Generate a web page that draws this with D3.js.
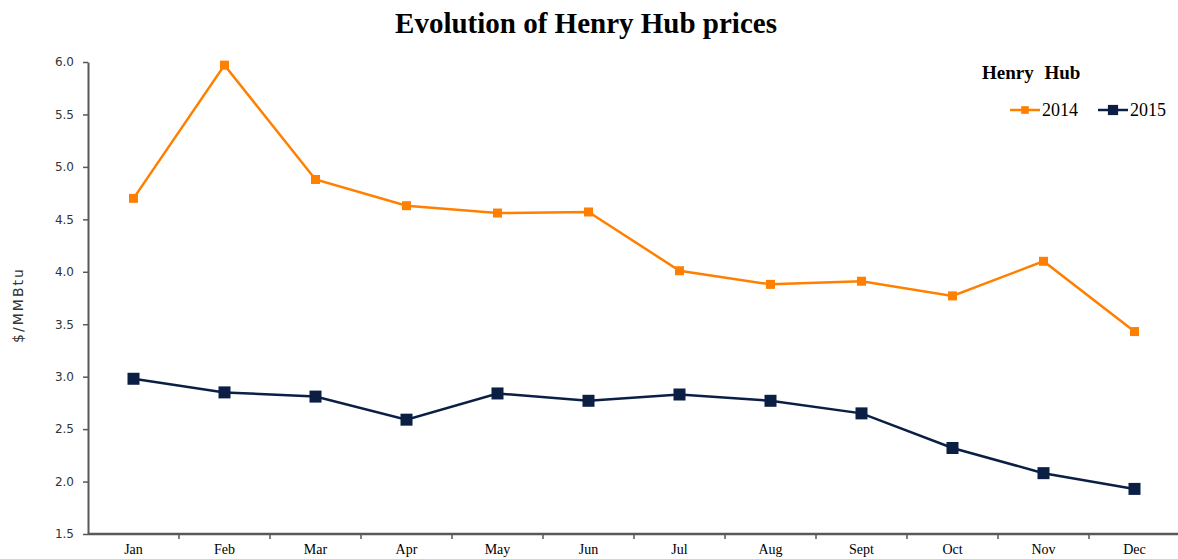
<!DOCTYPE html>
<html>
<head>
  <meta charset="utf-8">
  <script src="https://cdn.jsdelivr.net/npm/d3@7"></script>
  <style>
    body { margin: 0; background: #fff; }
    svg { display: block; }
  </style>
</head>
<body>
  <svg id="chart" width="1178" height="559"></svg>
  <script>
    // data
    var months = ['Jan', 'Feb', 'Mar', 'Apr', 'May', 'Jun', 'Jul', 'Aug', 'Sept', 'Oct', 'Nov', 'Dec']
    var hh2014 = [4.70, 5.97, 4.88, 4.63, 4.56, 4.57, 4.01, 3.88, 3.91, 3.77, 4.10, 3.43]
    var hh2015 = [2.98, 2.85, 2.81, 2.59, 2.84, 2.77, 2.83, 2.77, 2.65, 2.32, 2.08, 1.93]
    var yTicks = [1.5, 2.0, 2.5, 3.0, 3.5, 4.0, 4.5, 5.0, 5.5, 6.0]
    var seriesNames = ['2014', '2015']

    var svg = d3.select('#chart')
    // plot edges (not "top": that name is taken by window.top)
    var plotLeft = 88, plotRight = 1180, plotTop = 62, plotBottom = 534

    var x = d3.scaleBand().domain(months).range([plotLeft, plotRight])
    var y = d3.scaleLinear().domain([1.5, 6.0]).range([plotBottom, plotTop])

    // title
    svg.append('text')
      .attr('x', 586).attr('y', 33)
      .attr('text-anchor', 'middle')
      .style('font-family', '"Liberation Serif", "Times New Roman", serif')
      .style('font-weight', 'bold')
      .style('font-size', '29px')
      .text('Evolution of Henry Hub prices')

    // y axis
    var yAxis = svg.append('g')
      .attr('transform', 'translate(' + plotLeft + ',0)')
      .call(d3.axisLeft(y).tickValues(yTicks).tickFormat(d3.format('.1f')).tickSize(5).tickSizeOuter(0))
    yAxis.select('.domain').attr('stroke', '#595959').attr('stroke-width', 2)
    yAxis.selectAll('.tick line').attr('stroke', '#595959').attr('stroke-width', 1.5)
    yAxis.selectAll('.tick text')
      .attr('x', -14)
      .style('font-family', '"DejaVu Sans", Verdana, sans-serif')
      .style('font-size', '12px')
      .attr('fill', '#333')

    // x axis, ticks between categories
    var xAxis = svg.append('g')
      .attr('transform', 'translate(0,' + plotBottom + ')')
    xAxis.append('line')
      .attr('x1', plotLeft).attr('x2', plotRight)
      .attr('stroke', '#595959').attr('stroke-width', 2.5)
    xAxis.selectAll('.sep')
      .data(months.slice(1))
      .join('line')
      .attr('class', 'sep')
      .attr('x1', d => x(d)).attr('x2', d => x(d))
      .attr('y1', 0).attr('y2', 5)
      .attr('stroke', '#595959').attr('stroke-width', 1.5)
    xAxis.selectAll('.lbl')
      .data(months)
      .join('text')
      .attr('class', 'lbl')
      .attr('x', d => x(d) + x.bandwidth() / 2)
      .attr('y', 20)
      .attr('text-anchor', 'middle')
      .style('font-family', '"Liberation Serif", "Times New Roman", serif')
      .style('font-size', '14px')
      .text(d => d)

    // y label
    svg.append('text')
      .attr('transform', 'translate(23,305) rotate(-90)')
      .attr('text-anchor', 'middle')
      .style('font-family', '"DejaVu Sans", Verdana, sans-serif')
      .style('font-size', '14px')
      .style('letter-spacing', '2px')
      .attr('fill', '#333')
      .text('$/MMBtu')

    var colors = ['#FF8000', '#0B1F45']
    var markerSize = [9, 12]
    var line = d3.line()
      .x((d, i) => x(months[i]) + x.bandwidth() / 2)
      .y(d => y(d))

    ;[hh2014, hh2015].forEach(function (vals, s) {
      svg.append('path')
        .datum(vals)
        .attr('d', line)
        .attr('fill', 'none')
        .attr('stroke', colors[s])
        .attr('stroke-width', 2.5)
      svg.selectAll('.m' + s)
        .data(vals)
        .join('rect')
        .attr('class', 'm' + s)
        .attr('x', (d, i) => x(months[i]) + x.bandwidth() / 2 - markerSize[s] / 2)
        .attr('y', d => y(d) - markerSize[s] / 2)
        .attr('width', markerSize[s])
        .attr('height', markerSize[s])
        .attr('fill', colors[s])
    })

    // legend
    svg.append('text')
      .attr('x', 982).attr('y', 79)
      .style('font-family', '"Liberation Serif", "Times New Roman", serif')
      .style('font-weight', 'bold')
      .style('font-size', '19px')
      .style('word-spacing', '6px')
      .text('Henry Hub')

    var legX = [1010, 1098]
    seriesNames.forEach(function (name, s) {
      var g = svg.append('g').attr('transform', 'translate(' + legX[s] + ',110)')
      g.append('line')
        .attr('x1', 0).attr('x2', 30)
        .attr('stroke', colors[s]).attr('stroke-width', 2.5)
      g.append('rect')
        .attr('x', 15 - markerSize[s] / 2 * 0.85).attr('y', -markerSize[s] / 2 * 0.85)
        .attr('width', markerSize[s] * 0.85).attr('height', markerSize[s] * 0.85)
        .attr('fill', colors[s])
      g.append('text')
        .attr('x', 32).attr('y', 6)
        .style('font-family', '"Liberation Serif", "Times New Roman", serif')
        .style('font-size', '18px')
        .text(name)
    })
  </script>
</body>
</html>
